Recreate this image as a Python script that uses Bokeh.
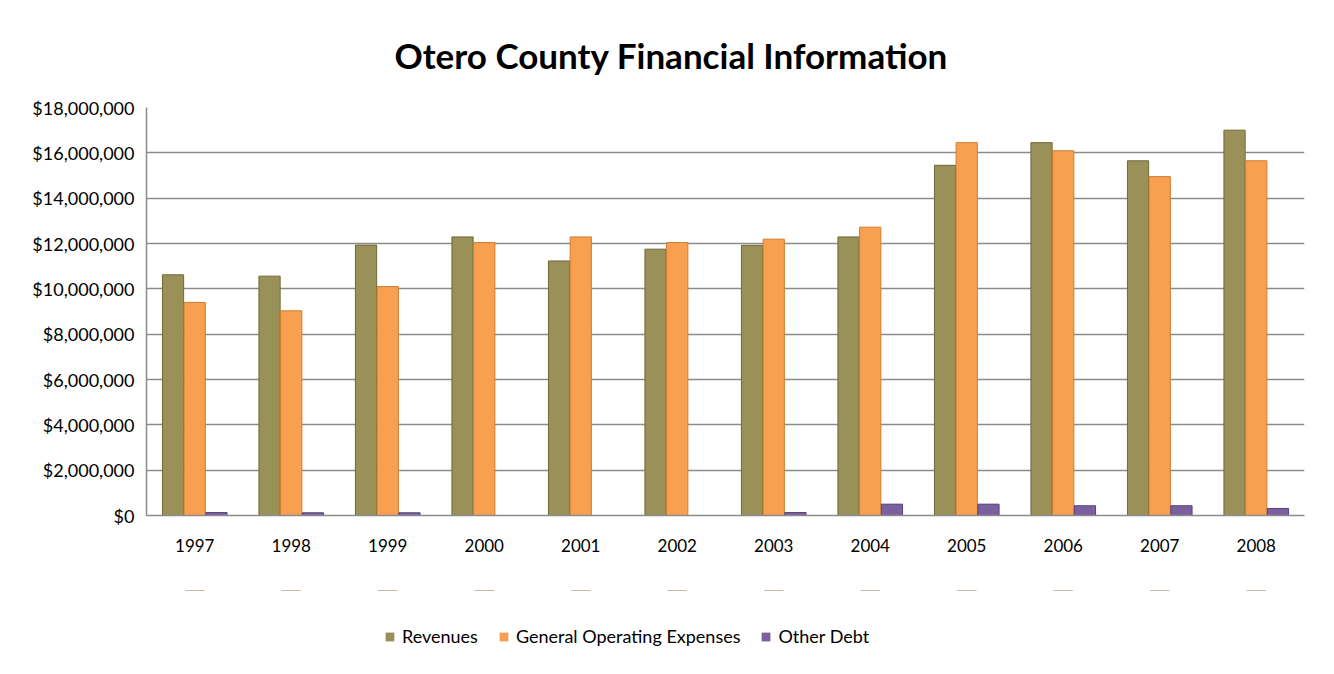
from bokeh.plotting import figure
from bokeh.layouts import column
from bokeh.models import ColumnDataSource, FactorRange, NumeralTickFormatter, Legend, LegendItem, Title
from bokeh.transform import dodge
from bokeh.embed import file_html
from bokeh.resources import INLINE

years = ['1997', '1998', '1999', '2000', '2001', '2002', '2003', '2004', '2005', '2006', '2007', '2008']
revenues = [10620000, 10560000, 11930000, 12290000, 11230000, 11750000, 11920000, 12290000, 15450000, 16450000, 15650000, 17000000]
operating_expenses = [9400000, 9030000, 10100000, 12040000, 12290000, 12040000, 12190000, 12720000, 16450000, 16090000, 14950000, 15650000]
other_debt = [130000, 120000, 120000, 0, 0, 0, 130000, 500000, 500000, 430000, 430000, 310000]

series_names = ['Revenues', 'General Operating Expenses', 'Other Debt']
series_fill = ["#9A9158", "#F9A050", "#7B60A0"]
series_line = ["#6E6838", "#D07C30", "#56407A"]
y_ticks = [0, 2000000, 4000000, 6000000, 8000000, 10000000, 12000000, 14000000, 16000000, 18000000]

src = ColumnDataSource(dict(years=years, rev=revenues, goe=operating_expenses, debt=other_debt))

FONT = "Lato"

p = figure(x_range=FactorRange(*years), y_range=(0, 18000000), width=1318, height=590,
           output_backend="svg", toolbar_location=None,
           min_border_left=146, min_border_right=14, min_border_top=107, min_border_bottom=75)

p.title = Title(text="Otero County Financial Information", align="left", offset=248,
                text_font=FONT, text_font_size="35px", text_font_style="bold",
                text_color="#000000", standoff=63)

w = 0.22
cols = ['rev', 'goe', 'debt']
offsets = [-0.225, 0.0, 0.225]
for c, off, fc, lc in zip(cols, offsets, series_fill, series_line):
    p.vbar(x=dodge('years', off, range=p.x_range), top=c, width=w, source=src,
           fill_color=fc, line_color=lc, line_width=1)

p.yaxis.ticker = y_ticks
p.yaxis.formatter = NumeralTickFormatter(format="$0,0")
for ax in (p.xaxis, p.yaxis):
    ax.major_label_text_font = FONT
    ax.major_label_text_color = "#000000"
    ax.major_tick_line_color = None
    ax.minor_tick_line_color = None
    ax.axis_line_color = "#8C8C8C"
    ax.axis_line_width = 1.5
p.yaxis.major_label_text_font_size = "18px"
p.xaxis.major_label_text_font_size = "17px"
p.yaxis.major_label_standoff = 6
p.xaxis.major_label_standoff = 17

p.xgrid.grid_line_color = None
p.ygrid.grid_line_color = "#8C8C8C"
p.ygrid.grid_line_width = 1.5
p.outline_line_color = None
p.x_range.range_padding = 0.0

# legend strip below the chart (its own bars sit outside its visible range)
lg = figure(width=1318, height=68, x_range=FactorRange(*years), y_range=(-2, -1),
            x_axis_location=None, y_axis_location=None,
            output_backend="svg", toolbar_location=None,
            min_border=0, min_border_left=0, min_border_right=0, min_border_top=0, min_border_bottom=0)
lg.grid.visible = False
lg.outline_line_color = None
items = []
for name, c, fc, lc in zip(series_names, cols, series_fill, series_line):
    r = lg.vbar(x='years', top=c, bottom=c, width=0.2, source=src, fill_color=fc, line_color=None)
    items.append(LegendItem(label=name, renderers=[r]))

legend = Legend(items=items, orientation="horizontal", location=(238, 11),
                label_text_font=FONT, label_text_font_size="18px", label_text_color="#000000",
                glyph_width=11, glyph_height=11, spacing=20, label_standoff=7,
                border_line_color=None, background_fill_alpha=0, margin=0)
lg.add_layout(legend)

layout = column(p, lg, spacing=0)

open("out.html", "w").write(file_html(layout, INLINE))
